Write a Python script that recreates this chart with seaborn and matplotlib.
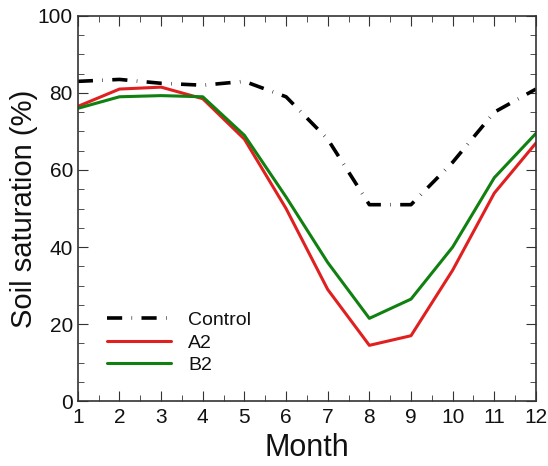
import matplotlib
matplotlib.use("Agg")
import matplotlib.pyplot as plt
import seaborn as sns
import pandas as pd
from matplotlib.ticker import MultipleLocator

months = [1, 2, 3, 4, 5, 6, 7, 8, 9, 10, 11, 12]
control = [83, 83.5, 82.5, 82, 83, 79, 68, 51, 51, 62, 75, 81]
a2 = [76.5, 81, 81.5, 78.5, 68, 50, 29, 14.5, 17, 34, 54, 67]
b2 = [76, 79, 79.3, 79, 69, 53, 36, 21.5, 26.5, 40, 58, 69.5]

sns.set_style("ticks")
plt.rcParams['font.family'] = ['Liberation Sans', 'DejaVu Sans']

fig = plt.figure(figsize=(5.48, 4.66), dpi=100)
ax = fig.add_axes([0.142, 0.139, 0.836, 0.827])

df = pd.DataFrame({"Month": months, "Control": control, "A2": a2, "B2": b2})
sns.lineplot(data=df, x="Month", y="Control", ax=ax, color="black", lw=2.6,
             label="Control")
ax.lines[-1].set_dashes([4.2, 2.6, 0.15, 2.6])
sns.lineplot(data=df, x="Month", y="A2", ax=ax, color="#e02020", lw=2.2, label="A2")
sns.lineplot(data=df, x="Month", y="B2", ax=ax, color="#108010", lw=2.2, label="B2")

ax.set_xlim(1, 12)
ax.set_ylim(0, 100)
ax.xaxis.set_major_locator(MultipleLocator(1))
ax.xaxis.set_minor_locator(MultipleLocator(0.5))
ax.yaxis.set_major_locator(MultipleLocator(20))
ax.yaxis.set_minor_locator(MultipleLocator(5))
ax.tick_params(which="both", direction="in", top=True, right=True, labelsize=15,
               color="#333333", labelcolor="#111111")
ax.tick_params(which="major", length=7)
ax.tick_params(which="minor", length=4)
ax.tick_params(axis="x", pad=5)
for s in ax.spines.values():
    s.set_color("#333333")
    s.set_linewidth(1.2)
ax.set_xlabel("Month", fontsize=22, labelpad=4, color="#111111")
ax.set_ylabel("Soil saturation (%)", fontsize=21, labelpad=0, color="#111111")

leg = ax.legend(loc="lower left", bbox_to_anchor=(0.025, 0.025), frameon=False, fontsize=14,
                handlelength=3.3, handletextpad=0.9, labelspacing=0.25)
for t in leg.get_texts():
    t.set_color("#111111")

fig.savefig("out.png", dpi=100)
